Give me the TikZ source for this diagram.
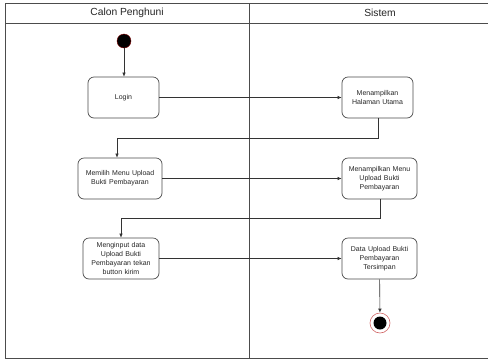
\documentclass[tikz,border=0pt]{standalone}
\usepackage{fontspec}
\setmainfont{Liberation Sans}
\usetikzlibrary{arrows.meta}
\begin{document}
\begin{tikzpicture}[x=1pt,y=-1pt,
  act/.style={draw=black!70,rounded corners=6pt,line width=0.7pt,align=center,font=\fontsize{7}{9}\selectfont,text=black!85,inner sep=1pt},
  flow/.style={draw=black!80,line width=0.6pt,-{Latex[length=4pt,width=3.5pt]}},
  lane/.style={draw=black!70,line width=0.8pt}]
\useasboundingbox (0,0) rectangle (488,360);
\fill[white] (0,0) rectangle (488,360);
% swimlanes
\draw[lane] (5,3) rectangle (489,358);
\draw[lane] (5,23) -- (489,23);
\draw[lane] (249,3) -- (249,358);
\node[font=\fontsize{10.3}{11}\selectfont,text=black!85] (h1) at (127,13) {Calon Penghuni};
\node[font=\fontsize{10.3}{11}\selectfont,text=black!85] (h2) at (380,13) {Sistem};
% start
\node[circle,fill=black,draw=red!50!black,minimum size=14pt,inner sep=0pt] (start) at (124,41) {};
% activities
\node[act,minimum width=71pt,minimum height=41pt] (login) at (123.5,97.5) {Login};
\node[act,minimum width=71pt,minimum height=41pt,text width=69pt] (mhu) at (377.5,97.5) {Menampilkan\\Halaman Utama};
\node[act,minimum width=84pt,minimum height=41pt,text width=82pt] (memilih) at (120,178.5) {Memilih Menu Upload\\Bukti Pembayaran};
\node[act,minimum width=75pt,minimum height=41pt,text width=73pt] (mmu) at (379.5,178.5) {Menampilkan Menu\\Upload Bukti\\Pembayaran};
\node[act,minimum width=76pt,minimum height=41pt,text width=74pt] (input) at (121,258.5) {Menginput data\\Upload Bukti\\Pembayaran tekan\\button kirim};
\node[act,minimum width=75pt,minimum height=41pt,text width=73pt] (data) at (379.5,258.5) {Data Upload Bukti\\Pembayaran\\Tersimpan};
% end
\node[circle,draw=red!70!black!60,line width=0.6pt,minimum size=20pt,inner sep=0pt] (end) at (380,323) {};
\fill[black] (end.center) circle (6.5pt);
% connectors
\draw[flow] (start) -- (login.north -| start);
\draw[flow] (login) -- (mhu);
\coordinate (c1) at (378,138);
\coordinate (c2) at (117,138);
\draw[flow] (mhu.south -| c1) -- (c1) -- (c2) -- (memilih.north -| c2);
\draw[flow] (memilih) -- (mmu);
\coordinate (c3) at (380,218);
\coordinate (c4) at (121,218);
\draw[flow] (mmu.south -| c3) -- (c3) -- (c4) -- (input.north -| c4);
\draw[flow] (input) -- (data);
\draw[flow] (data) -- (end);
\end{tikzpicture}
\end{document}
